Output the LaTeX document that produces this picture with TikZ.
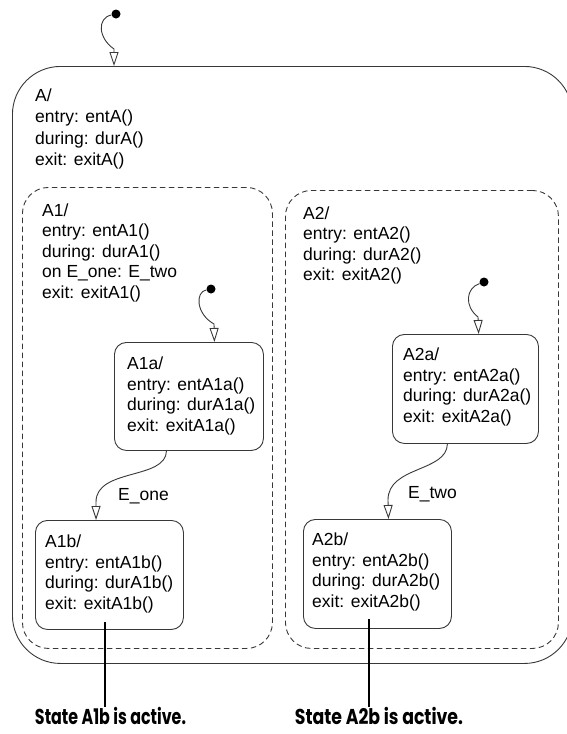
\documentclass[tikz,border=0pt]{standalone}
\usepackage{fontspec}
\setmainfont{Liberation Sans}
\newfontfamily\callfont{Poppins}
\usepackage{graphicx}
\usetikzlibrary{arrows.meta,calc}
\begin{document}
\begin{tikzpicture}[x=1pt,y=-1pt,
  linecol/.style={draw=black!78, line width=0.9pt},
  superbox/.style={linecol, anchor=north west, inner sep=0pt, rounded corners=48pt},
  parbox/.style={linecol, dashed, dash pattern=on 5.5pt off 3.5pt, anchor=north west, inner sep=0pt, rounded corners=26pt},
  statebox/.style={linecol, anchor=north west, inner sep=0pt, rounded corners=12pt},
  txt/.style={anchor=north west, inner sep=0pt, align=left, font=\fontsize{17.5}{20.5}\selectfont},
  txtA/.style={anchor=north west, inner sep=0pt, align=left, font=\fontsize{17.5}{21.5}\selectfont},
  lbl/.style={anchor=west, inner sep=0pt, font=\fontsize{17.5}{20.5}\selectfont},
  initdot/.style={circle, fill=black, inner sep=0pt, minimum size=9pt},
  trans/.style={linecol, -{Triangle[open, length=14pt, width=9pt, line width=0.9pt]}},
  callline/.style={draw=black, line width=2.5pt},
  callout/.style={anchor=north, inner sep=0pt, font=\callfont\bfseries\fontsize{21.5}{23}\selectfont}
]
\useasboundingbox (0,0) rectangle (567,734);

% superstate A
\node[superbox, minimum width=560pt, minimum height=597pt] (A) at (12,66) {};
\node[txtA] (tA) at (35,88.5) {A/\\entry: entA()\\during: durA()\\exit: exitA()};

% parallel states
\node[parbox, minimum width=250pt, minimum height=461pt] (A1) at (22,187) {};
\node[txt] (tA1) at (42,203.5) {A1/\\entry: entA1()\\during: durA1()\\on E\_one: E\_two\\exit: exitA1()};
\node[parbox, minimum width=273pt, minimum height=458pt] (A2) at (285,190) {};
\node[txt] (tA2) at (303,206.5) {A2/\\entry: entA2()\\during: durA2()\\exit: exitA2()};

% substates
\node[statebox, minimum width=149pt, minimum height=108pt] (A1a) at (114,342) {};
\node[txt] (tA1a) at (127,357) {A1a/\\entry: entA1a()\\during: durA1a()\\exit: exitA1a()};
\node[statebox, minimum width=148pt, minimum height=109pt] (A1b) at (35,520) {};
\node[txt] (tA1b) at (45,535) {A1b/\\entry: entA1b()\\during: durA1b()\\exit: exitA1b()};
\node[statebox, minimum width=146pt, minimum height=109pt] (A2a) at (392,334) {};
\node[txt] (tA2a) at (403,348) {A2a/\\entry: entA2a()\\during: durA2a()\\exit: exitA2a()};
\node[statebox, minimum width=148pt, minimum height=109pt] (A2b) at (303,519) {};
\node[txt] (tA2b) at (312,533) {A2b/\\entry: entA2b()\\during: durA2b()\\exit: exitA2b()};

% default transitions
\node[initdot] (i0) at (116,14) {};
\coordinate (A0in) at (114,66);
\draw[trans] (i0) .. controls (97,18) and (98,38) .. (114,49) -- (A0in);

\node[initdot] (i1) at (211,289) {};
\coordinate (A1in) at ($(A1a.north west)!0.67!(A1a.north east)$);
\draw[trans] (i1) .. controls (195,292) and (196,314) .. (214,324) -- (A1in);

\node[initdot] (i2) at (484,282) {};
\coordinate (A2in) at ($(A2a.north west)!0.59!(A2a.north east)$);
\draw[trans] (i2) .. controls (466,288) and (464,306) .. (478,317) -- (A2in);

% event transitions
\coordinate (e1s) at ($(A1a.south west)!0.35!(A1a.south east)$);
\coordinate (e1t) at ($(A1b.north west)!0.41!(A1b.north east)$);
\draw[trans] (e1s) .. controls (166,480) and (96,468) .. (96,502) -- (e1t);
\node[lbl] (l1) at (118,496) {E\_one};

\coordinate (e2s) at ($(A2a.south west)!0.377!(A2a.south east)$);
\coordinate (e2t) at ($(A2b.north west)!0.574!(A2b.north east)$);
\draw[trans] (e2s) .. controls (447,472) and (388,466) .. (388,500) -- (e2t);
\node[lbl] (l2) at (408,494) {E\_two};

% callouts
\node[callout] (c1) at (110.5,707) {\resizebox{151pt}{\height}{State A1b is active.}};
\coordinate (p1) at (105,622);
\draw[callline] (p1) -- (p1 |- c1.north);
\node[callout] (c2) at (379,707) {\resizebox{168pt}{\height}{State A2b is active.}};
\coordinate (p2) at (369,619);
\draw[callline] (p2) -- (p2 |- c2.north);
\end{tikzpicture}
\end{document}
